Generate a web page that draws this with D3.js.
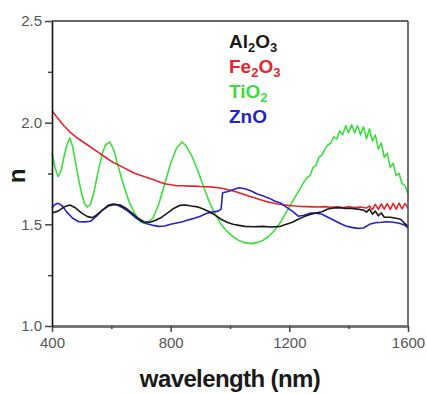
<!DOCTYPE html>
<html>
<head>
<meta charset="utf-8">
<script src="https://cdn.jsdelivr.net/npm/d3@7"></script>
<style>
  html, body { margin: 0; padding: 0; background: #fff; }
  svg { display: block; }
</style>
</head>
<body>
<div id="chart"></div>
<script>
const xTicks = [400, 800, 1200, 1600]
const xMinorTicks = [600, 1000, 1400]
const yTicks = [1.0, 1.5, 2.0, 2.5]
const yMinorTicks = [1.25, 1.75, 2.25]

const seriesNames = ["Al2O3", "Fe2O3", "TiO2", "ZnO"]

const al2o3 = [[400,1.556],[420,1.565],[440,1.585],[460,1.595],[480,1.58],[500,1.555],[520,1.538],[535,1.533],[550,1.545],[570,1.57],[590,1.59],[610,1.598],[630,1.595],[650,1.578],[670,1.555],[690,1.53],[710,1.513],[730,1.51],[750,1.52],[770,1.535],[790,1.556],[810,1.578],[830,1.593],[850,1.595],[870,1.59],[890,1.586],[910,1.575],[930,1.562],[950,1.545],[970,1.525],[990,1.51],[1010,1.5],[1030,1.495],[1050,1.49],[1080,1.488],[1110,1.49],[1140,1.487],[1170,1.49],[1190,1.5],[1210,1.51],[1230,1.525],[1250,1.538],[1270,1.548],[1290,1.556],[1310,1.562],[1330,1.575],[1350,1.58],[1370,1.582],[1390,1.578],[1410,1.578],[1430,1.575],[1450,1.57],[1460,1.56],[1470,1.575],[1480,1.55],[1490,1.565],[1500,1.542],[1510,1.556],[1520,1.535],[1540,1.535],[1560,1.53],[1575,1.525],[1585,1.51],[1600,1.49]]

const fe2o3 = [[400,2.06],[420,2.02],[440,1.985],[460,1.955],[480,1.93],[500,1.91],[520,1.89],[540,1.87],[560,1.85],[580,1.83],[600,1.81],[620,1.795],[640,1.78],[660,1.765],[680,1.75],[700,1.74],[720,1.73],[740,1.72],[760,1.71],[780,1.70],[800,1.695],[820,1.69],[840,1.69],[860,1.688],[880,1.688],[900,1.686],[920,1.685],[940,1.683],[960,1.68],[980,1.675],[1000,1.668],[1020,1.66],[1040,1.65],[1060,1.64],[1080,1.632],[1100,1.622],[1120,1.613],[1140,1.606],[1160,1.6],[1180,1.596],[1200,1.593],[1220,1.59],[1240,1.588],[1260,1.587],[1280,1.586],[1300,1.585],[1320,1.587],[1340,1.584],[1360,1.586],[1380,1.583],[1400,1.586],[1420,1.582],[1440,1.585],[1460,1.58],[1470,1.59],[1480,1.572],[1490,1.598],[1500,1.574],[1510,1.6],[1520,1.575],[1530,1.602],[1540,1.574],[1550,1.603],[1560,1.575],[1570,1.604],[1580,1.576],[1590,1.603],[1600,1.58]]

const tio2 = [[400,1.85],[410,1.78],[420,1.735],[430,1.76],[440,1.83],[450,1.89],[460,1.925],[470,1.88],[480,1.8],[490,1.72],[500,1.65],[510,1.6],[520,1.585],[530,1.6],[540,1.65],[550,1.72],[560,1.79],[570,1.85],[580,1.89],[595,1.905],[610,1.86],[620,1.8],[640,1.7],[660,1.61],[680,1.55],[700,1.51],[710,1.505],[720,1.507],[740,1.53],[760,1.6],[780,1.7],[800,1.8],[820,1.875],[838,1.905],[850,1.89],[870,1.84],[890,1.77],[910,1.69],[930,1.61],[950,1.55],[970,1.5],[990,1.465],[1010,1.44],[1030,1.42],[1050,1.41],[1070,1.405],[1090,1.41],[1110,1.42],[1130,1.44],[1150,1.47],[1170,1.51],[1190,1.56],[1210,1.61],[1230,1.66],[1250,1.71],[1260,1.73],[1270,1.74],[1280,1.78],[1290,1.79],[1300,1.83],[1310,1.84],[1320,1.87],[1330,1.89],[1340,1.9],[1350,1.93],[1360,1.92],[1370,1.96],[1380,1.94],[1390,1.985],[1400,1.95],[1410,1.99],[1420,1.95],[1430,1.985],[1440,1.94],[1450,1.98],[1460,1.92],[1470,1.97],[1480,1.91],[1490,1.94],[1500,1.87],[1510,1.9],[1520,1.83],[1530,1.85],[1540,1.78],[1550,1.8],[1560,1.74],[1570,1.75],[1580,1.7],[1590,1.69],[1600,1.65]]

const zno = [[400,1.58],[410,1.598],[420,1.604],[435,1.59],[450,1.56],[470,1.53],[490,1.513],[510,1.512],[530,1.515],[550,1.54],[570,1.57],[590,1.595],[605,1.6],[620,1.595],[640,1.58],[660,1.56],[680,1.535],[700,1.515],[720,1.503],[740,1.495],[760,1.49],[780,1.492],[800,1.5],[820,1.507],[840,1.513],[860,1.522],[880,1.53],[900,1.54],[920,1.553],[940,1.56],[960,1.565],[970,1.575],[975,1.655],[990,1.66],[1010,1.67],[1030,1.68],[1050,1.675],[1070,1.665],[1090,1.65],[1110,1.64],[1130,1.63],[1150,1.615],[1170,1.605],[1190,1.585],[1210,1.565],[1230,1.54],[1250,1.545],[1270,1.555],[1290,1.555],[1310,1.55],[1330,1.535],[1350,1.52],[1370,1.505],[1390,1.492],[1410,1.485],[1430,1.48],[1450,1.482],[1470,1.5],[1490,1.508],[1510,1.51],[1530,1.513],[1550,1.51],[1570,1.505],[1590,1.495],[1600,1.483]]

const seriesColors = ["#1a1a1a", "#e8232b", "#3ddd3d", "#2424c8"]

const width = 427, height = 394
const margin = { top: 21, right: 19, bottom: 68, left: 52 }

const svg = d3.select("#chart")
  .append("svg")
  .attr("width", width)
  .attr("height", height)

const x = d3.scaleLinear()
  .domain([400, 1600])
  .range([margin.left, width - margin.right])

const y = d3.scaleLinear()
  .domain([1.0, 2.5])
  .range([height - margin.bottom, margin.top])

const lineGen = d3.line()
  .x(d => x(d[0]))
  .y(d => y(d[1]))

const allSeries = [al2o3, fe2o3, tio2, zno]

// draw curves, black one last so it sits on top
const drawOrder = [2, 1, 3, 0]
drawOrder.forEach(i => {
  svg.append("path")
    .datum(allSeries[i])
    .attr("fill", "none")
    .attr("stroke", seriesColors[i])
    .attr("stroke-width", 1.6)
    .attr("stroke-linejoin", "round")
    .attr("d", lineGen)
})

// frame
svg.append("line")
  .attr("x1", x(400)).attr("x2", x(1600))
  .attr("y1", y(2.5)).attr("y2", y(2.5))
  .attr("stroke", "#333").attr("stroke-width", 1.5)
svg.append("line")
  .attr("x1", x(1600)).attr("x2", x(1600))
  .attr("y1", y(2.5)).attr("y2", y(1.0))
  .attr("stroke", "#444").attr("stroke-width", 1.5)

const xAxis = svg.append("g")
  .attr("transform", `translate(0,${y(1.0)})`)
  .call(d3.axisBottom(x).tickValues(xTicks).tickFormat(d3.format("d")).tickSize(6).tickSizeOuter(0))
xAxis.select(".domain").attr("stroke", "#777").attr("stroke-width", 3)
xAxis.selectAll(".tick line").attr("stroke", "#444").attr("stroke-width", 1.5)
xAxis.selectAll(".tick text")
  .attr("fill", "#555")
  .attr("font-family", "Liberation Sans, Arial, sans-serif")
  .attr("font-size", 15)
  .attr("dy", "0.85em")

svg.append("g")
  .attr("transform", `translate(0,${y(1.0)})`)
  .call(d3.axisBottom(x).tickValues(xMinorTicks).tickFormat("").tickSize(3).tickSizeOuter(0))
  .call(g => g.select(".domain").remove())
  .call(g => g.selectAll(".tick line").attr("stroke", "#444").attr("stroke-width", 1.5))

const yAxis = svg.append("g")
  .attr("transform", `translate(${x(400)},0)`)
  .call(d3.axisLeft(y).tickValues(yTicks).tickFormat(d3.format(".1f")).tickSize(7).tickSizeOuter(0))
yAxis.select(".domain").attr("stroke", "#111").attr("stroke-width", 1.6)
yAxis.selectAll(".tick line").attr("stroke", "#444").attr("stroke-width", 1.5)
yAxis.selectAll(".tick text")
  .attr("fill", "#555")
  .attr("font-family", "Liberation Sans, Arial, sans-serif")
  .attr("font-size", 15)
  .attr("x", -10)

svg.append("g")
  .attr("transform", `translate(${x(400)},0)`)
  .call(d3.axisLeft(y).tickValues(yMinorTicks).tickFormat("").tickSize(4).tickSizeOuter(0))
  .call(g => g.select(".domain").remove())
  .call(g => g.selectAll(".tick line").attr("stroke", "#444").attr("stroke-width", 1.5))

// axis titles
svg.append("text")
  .attr("x", (x(400) + x(1600)) / 2)
  .attr("y", 387)
  .attr("text-anchor", "middle")
  .attr("font-family", "Liberation Sans, Arial, sans-serif")
  .attr("font-weight", "bold")
  .attr("font-size", 24)
  .attr("letter-spacing", -0.6)
  .attr("fill", "#1a1a1a")
  .text("wavelength (nm)")

svg.append("text")
  .attr("transform", `translate(25,176) rotate(-90)`)
  .attr("text-anchor", "middle")
  .attr("font-family", "Liberation Sans, Arial, sans-serif")
  .attr("font-weight", "bold")
  .attr("font-size", 24)
  .attr("fill", "#1a1a1a")
  .text("n")

// legend with subscripts
const legendParts = [
  [["Al", false], ["2", true], ["O", false], ["3", true]],
  [["Fe", false], ["2", true], ["O", false], ["3", true]],
  [["Ti", false], ["O", false], ["2", true]],
  [["ZnO", false]]
]
const legendY = [48, 73, 98, 123]

seriesNames.forEach((name, i) => {
  const t = svg.append("text")
    .attr("x", 229)
    .attr("y", legendY[i])
    .attr("font-family", "Liberation Sans, Arial, sans-serif")
    .attr("font-weight", "bold")
    .attr("font-size", 19)
    .attr("fill", seriesColors[i])
  legendParts[i].forEach((p, j) => {
    const prevSub = j > 0 && legendParts[i][j - 1][1]
    t.append("tspan")
      .attr("font-size", p[1] ? 13 : 19)
      .attr("dy", p[1] ? 4 : (prevSub ? -4 : 0))
      .text(p[0])
  })
})
</script>
</body>
</html>
